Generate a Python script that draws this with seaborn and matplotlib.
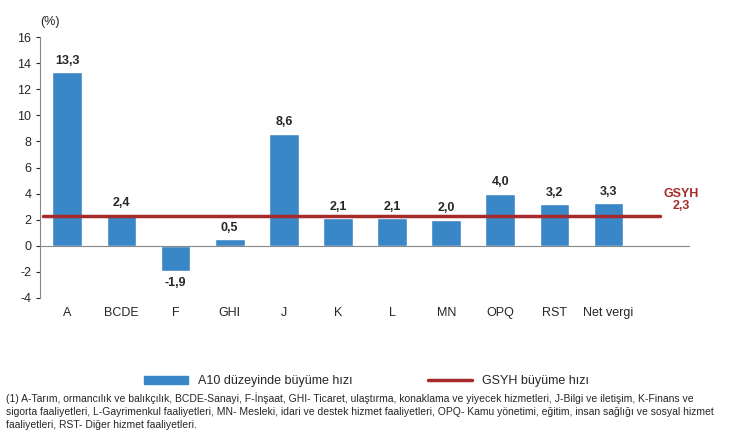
import matplotlib
matplotlib.use("Agg")
import matplotlib.pyplot as plt
import seaborn as sns
import pandas as pd
from matplotlib.patches import Patch
from matplotlib.lines import Line2D

categories = ['A', 'BCDE', 'F', 'GHI', 'J', 'K', 'L', 'MN', 'OPQ', 'RST', 'Net vergi']
values = [13.3, 2.4, -1.9, 0.5, 8.6, 2.1, 2.1, 2.0, 4.0, 3.2, 3.3]
gsyh = 2.3

sns.set_style('white')
plt.rcParams['font.family'] = ['Liberation Sans', 'DejaVu Sans']
plt.rcParams['axes.unicode_minus'] = False

fig = plt.figure(figsize=(7.33, 4.42), dpi=100)
ax = fig.add_axes([0.055, 0.326, 0.886, 0.590])

bar_color = '#3a87c8'
line_color = '#a52a2a'
df = pd.DataFrame({'cat': categories, 'val': values})
sns.barplot(data=df, x='cat', y='val', color=bar_color, width=0.55, ax=ax, saturation=1)
ax.plot([-0.45, 10.95], [gsyh, gsyh], color=line_color, lw=2.5)

for i, v in enumerate(values):
    off = 0.4 if v >= 0 else -0.5
    ax.text(i, v + off, f"{v:.1f}".replace('.', ','), ha='center',
            va='bottom' if v >= 0 else 'top', fontsize=9, fontweight='bold')
ax.text(11.35, 2.6, 'GSYH\n2,3', ha='center', va='bottom', color=line_color,
        fontsize=9, fontweight='bold', linespacing=1.0)

ax.set_xlim(-0.5, 11.5)
ax.set_ylim(-4, 16)
ax.set_yticks(range(-4, 17, 2))
ax.set_xlabel('')
ax.set_ylabel('')
ax.tick_params(axis='both', labelsize=9, length=3, left=True)
for s in ['top', 'right', 'bottom']:
    ax.spines[s].set_visible(False)
ax.spines['left'].set_color('#888888')
ax.axhline(0, color='#888888', lw=0.8)
ax.text(-0.5, 16.9, '(%)', fontsize=9, ha='left')

handles = [Patch(color=bar_color), Line2D([], [], color=line_color, lw=2.5)]
fig.legend(handles, ['A10 düzeyinde büyüme hızı', 'GSYH büyüme hızı'],
           loc='center', bbox_to_anchor=(0.5, 0.137), ncol=2, frameon=False,
           fontsize=9, handlelength=3.5, handleheight=0.6, columnspacing=6)

note = ("(1) A-Tarım, ormancılık ve balıkçılık, BCDE-Sanayi, F-İnşaat, GHI- Ticaret, ulaştırma, konaklama ve yiyecek hizmetleri, J-Bilgi ve iletişim, K-Finans ve\n"
        "sigorta faaliyetleri, L-Gayrimenkul faaliyetleri, MN- Mesleki, idari ve destek hizmet faaliyetleri, OPQ- Kamu yönetimi, eğitim, insan sağlığı ve sosyal hizmet\n"
        "faaliyetleri, RST- Diğer hizmet faaliyetleri.")
fig.text(0.008, 0.112, note, fontsize=7.5, va='top', ha='left', linespacing=1.35)

fig.savefig('out.png', dpi=100)
